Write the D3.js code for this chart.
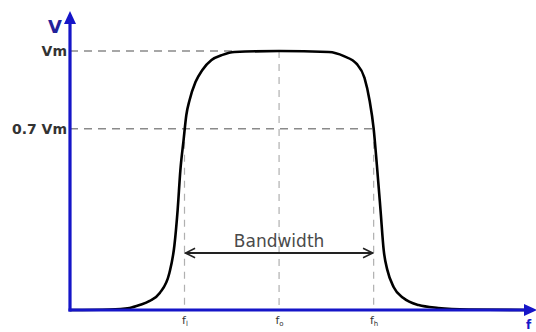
<!DOCTYPE html>
<html>
<head>
<meta charset="utf-8">
<script src="https://cdn.jsdelivr.net/npm/d3@7"></script>
<style>
	body { margin: 0; background: #fff; }
	svg { display: block; font-family: "DejaVu Sans", sans-serif; }
</style>
</head>
<body>
<div id="chart"></div>
<script>
// frequency response (x in arbitrary freq units, gain as fraction of Vm)
const freq = [0, 8.7, 13, 15.2, 17.4, 19.6, 21.7, 22.8, 23.5, 24.1, 24.8, 25.4, 26.1, 27.4, 28.9, 30.9, 33.3, 35.9, 45.65,
	56.5, 59.8, 62.6, 64.3, 65.4, 66.3, 67.0, 67.8, 68.5, 69.3, 70.65, 72.8, 76.1, 80.4, 87, 100];
const gain = [0, 0.002, 0.008, 0.019, 0.035, 0.066, 0.143, 0.25, 0.386, 0.54, 0.656, 0.753, 0.81, 0.88, 0.927, 0.965, 0.985, 0.996, 1,
	0.996, 0.98, 0.95, 0.896, 0.81, 0.7, 0.56, 0.386, 0.23, 0.154, 0.089, 0.046, 0.019, 0.008, 0.002, 0];

const levelValues = [1, 0.7];
const levelLabels = ["Vm", "0.7 Vm"];
const freqTicks = [25, 45.65, 66.3];
const freqSubs = ["l", "o", "h"];
const bandLabel = "Bandwidth";

const width = 536, height = 332;
const axisBlue = "#1515c8";

let svg = d3.select("#chart")
	.append("svg")
	.attr("width", width)
	.attr("height", height);

let x = d3.scaleLinear().domain([0, 100]).range([70, 528]);
let y = d3.scaleLinear().domain([0, 1]).range([310, 51]);

let defs = svg.append("defs");
defs.append("marker")
	.attr("id", "chev")
	.attr("viewBox", "0 0 10 10")
	.attr("refX", 9).attr("refY", 5)
	.attr("markerWidth", 6).attr("markerHeight", 6)
	.attr("markerUnits", "strokeWidth")
	.attr("orient", "auto-start-reverse")
	.append("path")
	.attr("d", "M1,1 L9,5 L1,9")
	.style("fill", "none")
	.style("stroke", "#222")
	.style("stroke-width", 1.3);

// dashed guide lines
let fL = freqTicks[0], fO = freqTicks[1], fH = freqTicks[2];
let guides = [
	{x1: 0, x2: 35.9, y1: 1, y2: 1, dash: "8,6", c: "#8a8a8a", w: 1.6},
	{x1: 0, x2: fH, y1: 0.7, y2: 0.7, dash: "8,6", c: "#8a8a8a", w: 1.6},
	{x1: fO, x2: fO, y1: 1, y2: 0, dash: "7,6", c: "#b0b0b0", w: 1.2},
	{x1: fL, x2: fL, y1: 0.7, y2: 0, dash: "7,6", c: "#b0b0b0", w: 1.2},
	{x1: fH, x2: fH, y1: 0.7, y2: 0, dash: "7,6", c: "#b0b0b0", w: 1.2}
];
svg.selectAll("line.guide")
	.data(guides)
	.enter().append("line")
	.attr("class", "guide")
	.attr("x1", d => x(d.x1))
	.attr("x2", d => x(d.x2))
	.attr("y1", d => y(d.y1))
	.attr("y2", d => y(d.y2))
	.style("stroke", d => d.c)
	.style("stroke-width", d => d.w)
	.style("stroke-dasharray", d => d.dash);

// response curve
let pts = freq.map((f, i) => ({f: f, g: gain[i]}));
let line = d3.line()
	.x(d => x(d.f))
	.y(d => y(d.g))
	.curve(d3.curveMonotoneX);

svg.append("path")
	.attr("d", line(pts))
	.style("fill", "none")
	.style("stroke", "#000")
	.style("stroke-width", 2.6);

// bandwidth arrow
let bandY = 0.22;
svg.append("line")
	.attr("x1", x(fL) + 1)
	.attr("x2", x(fH) - 1)
	.attr("y1", y(bandY))
	.attr("y2", y(bandY))
	.attr("marker-start", "url(#chev)")
	.attr("marker-end", "url(#chev)")
	.style("stroke", "#222")
	.style("stroke-width", 2);

svg.append("text")
	.attr("x", x(fO))
	.attr("y", y(bandY) - 6)
	.attr("text-anchor", "middle")
	.style("font-size", "17px")
	.style("fill", "#4a4a4a")
	.text(bandLabel);

// axes
let xAxis = d3.axisBottom(x)
	.tickValues(freqTicks)
	.tickFormat(() => "")
	.tickSize(0)
	.tickPadding(6);
let gx = svg.append("g")
	.attr("transform", "translate(0," + y(0) + ")")
	.call(xAxis);
gx.select(".domain").remove();
gx.selectAll("text")
	.style("font-size", "11px")
	.style("font-family", "DejaVu Sans, sans-serif")
	.style("fill", "#333")
	.each(function(d, i) {
		let t = d3.select(this);
		t.append("tspan").text("f");
		t.append("tspan")
			.attr("dy", 2)
			.style("font-size", "7px")
			.text(freqSubs[i]);
	});

let yAxis = d3.axisLeft(y)
	.tickValues(levelValues)
	.tickFormat((d, i) => levelLabels[i])
	.tickSize(0)
	.tickPadding(3);
let gy = svg.append("g")
	.attr("transform", "translate(" + x(0) + ",0)")
	.call(yAxis);
gy.select(".domain").remove();
gy.selectAll("text")
	.style("font-size", "14px")
	.style("font-weight", "bold")
	.style("font-family", "DejaVu Sans, sans-serif")
	.style("fill", "#333");

// blue axis lines with arrow heads
svg.append("line")
	.attr("x1", x(0)).attr("x2", x(0))
	.attr("y1", y(0) + 1.5).attr("y2", 22)
	.style("stroke", axisBlue)
	.style("stroke-width", 3.2);
svg.append("path")
	.attr("d", "M" + (x(0) - 6) + ",24 L" + x(0) + ",11 L" + (x(0) + 6) + ",24 Z")
	.style("fill", axisBlue);

svg.append("line")
	.attr("x1", x(0) - 1.5).attr("x2", 526)
	.attr("y1", y(0)).attr("y2", y(0))
	.style("stroke", axisBlue)
	.style("stroke-width", 3.2);
svg.append("path")
	.attr("d", "M524," + (y(0) - 6) + " L537," + y(0) + " L524," + (y(0) + 6) + " Z")
	.style("fill", axisBlue);

svg.append("text")
	.attr("x", 48).attr("y", 33)
	.style("font-size", "18px")
	.style("font-weight", "bold")
	.style("fill", "#22229a")
	.text("V");

svg.append("text")
	.attr("x", 526).attr("y", 329)
	.style("font-size", "12px")
	.style("font-weight", "bold")
	.style("fill", axisBlue)
	.text("f");
</script>
</body>
</html>
